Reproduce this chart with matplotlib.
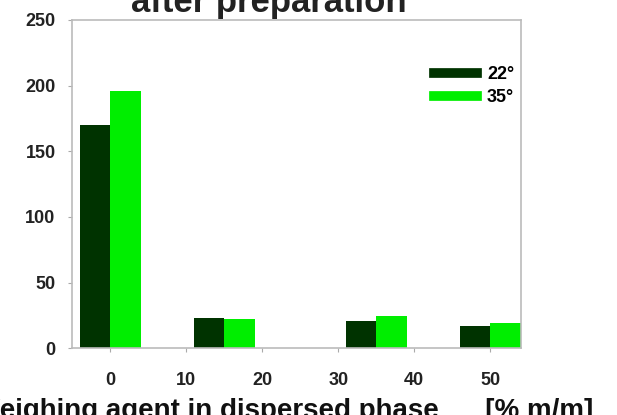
import matplotlib
matplotlib.use("Agg")
import matplotlib.pyplot as plt
from matplotlib.lines import Line2D

# data
content = [0, 15, 35, 50]          # % m/m weighing agent
t22 = [170, 23, 21, 17]
t35 = [196, 22, 24.5, 19]
xticks = [0, 10, 20, 30, 40, 50]
yticks = [0, 50, 100, 150, 200, 250]

plt.rcParams['font.family'] = ['Liberation Sans', 'DejaVu Sans']
plt.rcParams['font.weight'] = 'bold'

fig = plt.figure(figsize=(6.17, 4.15), dpi=100)
ax = fig.add_axes([0.117, 0.161, 0.727, 0.791])

w = 4.0
ax.bar([c - w / 2 for c in content], t22, width=w, color='#003300', label='22°')
ax.bar([c + w / 2 for c in content], t35, width=w, color='#00ee00', label='35°')

ax.set_xlim(-5, 54)
ax.set_ylim(0, 250)
ax.set_xticks(xticks)
ax.set_yticks(yticks)
ax.tick_params(axis='both', labelsize=13, labelcolor='#222222', length=3,
               width=0.8, color='#aaaaaa')
ax.tick_params(axis='y', pad=9)
ax.tick_params(axis='x', pad=14)
for s in ax.spines.values():
    s.set_color('#bbbbbb')
    s.set_linewidth(1.2)

# legend with thick line handles like the original
handles = [Line2D([0], [0], color='#003300', lw=7),
           Line2D([0], [0], color='#00ee00', lw=7)]
ax.legend(handles, ['22°', '35°'], loc='upper right', frameon=False,
          fontsize=13, handlelength=2.4, handletextpad=0.55, labelspacing=0.35,
          borderpad=0, borderaxespad=0, bbox_to_anchor=(0.985, 0.86))

fig.text(0.435, 0.971, 'after preparation', ha='center', va='baseline',
         fontsize=25, fontweight='bold', color='#222222')
fig.text(-0.042, -0.008, 'Weighing agent in dispersed phase      [% m/m]',
         ha='left', va='baseline', fontsize=20, fontweight='bold', color='#111111')

fig.savefig('out.png', dpi=100)
